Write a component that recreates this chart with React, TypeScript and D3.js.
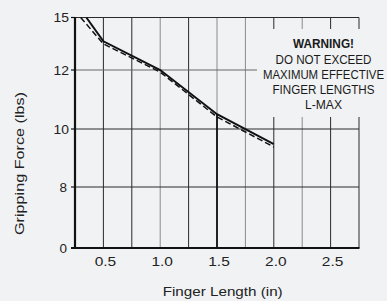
import React from "react";
import * as d3 from "d3";

const xTickValues = [0.5, 1.0, 1.5, 2.0, 2.5];
const xTickLabels = ["0.5", "1.0", "1.5", "2.0", "2.5"];
const yTickValues = [0, 8, 10, 12, 15];
const yTickLabels = ["0", "8", "10", "12", "15"];
const gridXValues = [0.5, 0.75, 1.0, 1.25, 1.5, 1.75, 2.0, 2.25, 2.5];
const gridYValues = [8, 10, 12];
const solidX = [0.35, 0.5, 1.0, 1.5, 2.0];
const solidY = [15, 13.64, 12.0, 10.5, 9.48];
const dashedX = [0.3, 0.5, 1.0, 1.5, 2.0];
const dashedY = [15, 13.49, 11.93, 10.41, 9.38];
const lMax = 1.5;
const warningLines = ["WARNING!", "DO NOT EXCEED", "MAXIMUM EFFECTIVE", "FINGER LENGTHS", "L-MAX"];
const xTitle = "Finger Length (in)";
const yTitle = "Gripping Force (lbs)";

const W = 387;
const H = 301;
const BG = "#f1f2f4";
const DARK = "#2a2a2a";
const GRAY = "#8a8a8a";
const grayX = new Set([1.0, 1.5, 1.75, 2.25]);
const grayY = new Set([12]);
const warnWidths = [61, 96, 121, 102, 37];
const warnScale = 0.8;

export default function App() {
  const x = d3.scaleLinear().domain([0.25, 2.75]).range([75, 359]);
  const y = d3.scaleLinear().domain([0, 8, 10, 12, 15]).range([248, 187, 129, 70, 17.5]);
  const line = d3
    .line<[number, number]>()
    .x((d) => x(d[0]))
    .y((d) => y(d[1]));
  const solidPts = solidX.map((v, i) => [v, solidY[i]] as [number, number]);
  const dashedPts = dashedX.map((v, i) => [v, dashedY[i]] as [number, number]);
  const lMaxY = y(solidY[solidX.indexOf(lMax)]);
  const top = y(15);
  const bottom = y(0);
  const left = x(0.25);
  const right = x(2.75);
  const boxTop = 29;
  const boxBottom = 117;
  const boxLeft = 257;
  const font = "Liberation Sans, Arial, Helvetica, sans-serif";

  return (
    <svg
      width={W}
      height={H}
      style={{ position: "absolute", left: 0, top: 0, background: BG }}
    >
      <rect x={0} y={0} width={W} height={H} fill={BG} />
      {gridXValues.map((v) => (
        <line
          key={"gx" + v}
          x1={x(v)}
          x2={x(v)}
          y1={top}
          y2={bottom}
          stroke={grayX.has(v) ? GRAY : DARK}
          strokeWidth={1}
        />
      ))}
      {gridYValues.map((v) => (
        <line
          key={"gy" + v}
          x1={left}
          x2={right}
          y1={y(v)}
          y2={y(v)}
          stroke={grayY.has(v) ? "#666" : DARK}
          strokeWidth={1}
        />
      ))}
      <line x1={left} x2={right} y1={top} y2={top} stroke={DARK} strokeWidth={1} />
      <line x1={right} x2={right} y1={top} y2={bottom} stroke={DARK} strokeWidth={1} />
      <line x1={x(lMax)} x2={x(lMax)} y1={lMaxY} y2={bottom} stroke="#111" strokeWidth={1.8} />
      <rect x={boxLeft} y={boxTop} width={W - boxLeft} height={boxBottom - boxTop} fill={BG} />
      {warningLines.map((t, i) => (
        <text
          key={t}
          transform={`translate(323.5,${48.3 + i * 15.2}) scale(${warnScale},1)`}
          x={0}
          y={0}
          textAnchor="middle"
          fontFamily={font}
          fontSize={12.5}
          fontWeight={i === 0 ? "bold" : "normal"}
          fill="#1a1a1a"
          textLength={warnWidths[i] / warnScale}
          lengthAdjust="spacingAndGlyphs"
        >
          {t}
        </text>
      ))}
      <path d={line(dashedPts) || ""} fill="none" stroke="#111" strokeWidth={1.5} strokeDasharray="6,3" />
      <path d={line(solidPts) || ""} fill="none" stroke="#111" strokeWidth={2} />
      <line x1={left} x2={left} y1={top - 0.5} y2={bottom + 1} stroke="#111" strokeWidth={2.2} />
      <line x1={71} x2={right + 0.5} y1={bottom} y2={bottom} stroke="#111" strokeWidth={2.2} />
      {yTickValues.map((v) => (
        <line key={"yt" + v} x1={71} x2={left} y1={y(v)} y2={y(v)} stroke="#111" strokeWidth={1.2} />
      ))}
      {yTickValues.map((v, i) => (
        <text
          key={"yl" + v}
          x={yTickLabels[i].length > 1 ? 69 : 67}
          y={y(v) + 4.6}
          textAnchor="end"
          fontFamily={font}
          fontSize={13}
          fill="#222"
          textLength={yTickLabels[i].length > 1 ? 15.5 : 7.5}
          lengthAdjust="spacingAndGlyphs"
        >
          {yTickLabels[i]}
        </text>
      ))}
      {xTickValues.map((v, i) => (
        <text
          key={"xl" + v}
          x={x(v) + 2}
          y={266}
          textAnchor="middle"
          fontFamily={font}
          fontSize={13}
          fill="#222"
          textLength={21.5}
          lengthAdjust="spacingAndGlyphs"
        >
          {xTickLabels[i]}
        </text>
      ))}
      <text
        x={222.7}
        y={295.5}
        textAnchor="middle"
        fontFamily={font}
        fontSize={12.5}
        fill="#222"
        textLength={120}
        lengthAdjust="spacingAndGlyphs"
      >
        {xTitle}
      </text>
      <text
        transform="translate(23.5,163.5) rotate(-90)"
        textAnchor="middle"
        fontFamily={font}
        fontSize={12.5}
        fill="#222"
        textLength={143}
        lengthAdjust="spacingAndGlyphs"
      >
        {yTitle}
      </text>
    </svg>
  );
}
